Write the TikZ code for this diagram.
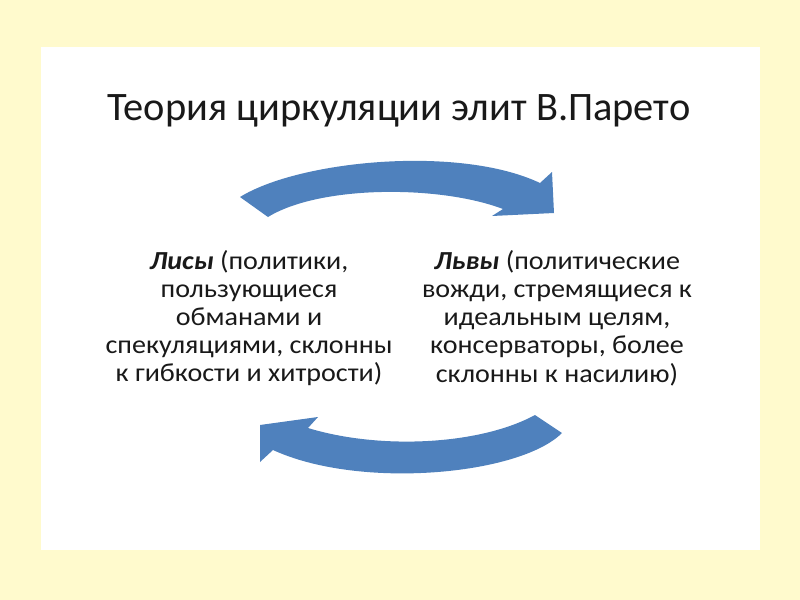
\documentclass[tikz,border=0pt]{standalone}
\usepackage{fontspec}
\setmainfont{Carlito}
\newfontfamily\wideFont[FakeStretch=1.08]{Carlito}
\definecolor{pageYellow}{RGB}{255,250,205}
\definecolor{arrowBlue}{RGB}{79,129,189}
\definecolor{textGray}{RGB}{25,25,25}

\begin{document}
\begin{tikzpicture}
[x=0.5pt,y=-0.5pt,
  titleDecorate/.style={font=\fontsize{20.2}{24}\selectfont,text=textGray,inner sep=0pt},%
  textDecorate/.style={align=center,font=\wideFont\fontsize{13}{14.1}\selectfont,text=textGray,inner sep=0pt},%
  arrowDecorate/.style={fill=arrowBlue,draw=none}]
%% page
\fill[pageYellow] (0,0) rectangle (800,600);
\fill[white] (41,47) rectangle (760,550);
%% title and texts
\node (title) at (399,111) [titleDecorate] {Теория циркуляции элит В.Парето};
\node (lisy) at (249,318) [textDecorate]
  {\textbf{\textit{Лисы}} (политики,\\ пользующиеся\\ обманами и\\ спекуляциями, склонны\\ к гибкости и хитрости)};
\node (lvy) at (557,318) [textDecorate]
  {\textbf{\textit{Львы}} (политические\\ вожди, стремящиеся к\\ идеальным целям,\\ консерваторы, более\\ склонны к насилию)};
%% arrows
\fill[arrowDecorate] (240,197) .. controls (300,160) and (460,145) .. (540,183)
  -- (552,172) -- (554,213) -- (492,216) -- (503,209)
  .. controls (440,185) and (320,185) .. (268,217) -- cycle;
\fill[arrowDecorate] (562,433) .. controls (520,475) and (360,490) .. (273,450)
  -- (260,462) -- (260,425) -- (318,417) -- (308,428)
  .. controls (380,450) and (480,445) .. (535,415) -- cycle;
\end{tikzpicture}
\end{document}
